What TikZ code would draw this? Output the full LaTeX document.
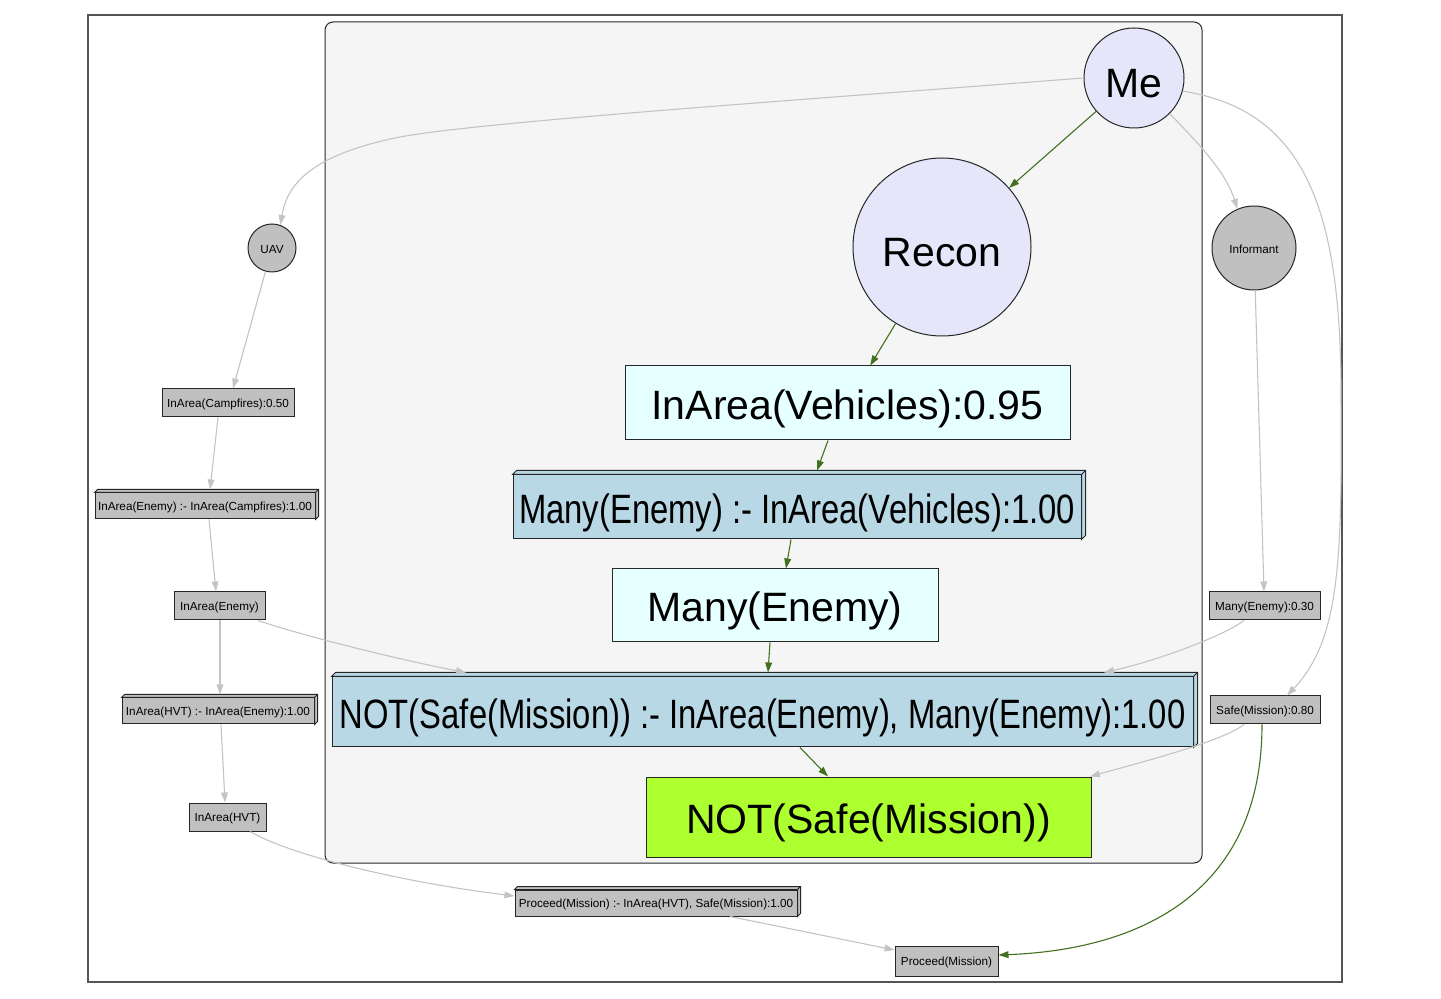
\documentclass[tikz,border=0pt]{standalone}
\usepackage{fontspec}
\setmainfont{Liberation Sans}
\newfontfamily\narrowfont[FakeStretch=0.8]{Liberation Sans}
\usetikzlibrary{arrows.meta,fit,calc}
\definecolor{lav}{HTML}{E6E6FA}
\definecolor{silverc}{HTML}{C0C0C0}
\definecolor{lcyan}{HTML}{E6FFFF}
\definecolor{lblue}{HTML}{B9D8E6}
\definecolor{gyellow}{HTML}{ADFF2F}
\definecolor{clusterc}{HTML}{F5F5F5}
\definecolor{edgegray}{HTML}{C4C4C4}
\definecolor{edgegreen}{HTML}{407020}
\definecolor{framec}{HTML}{555555}
\newcommand\bigf{\fontsize{20.5}{24}\selectfont}
\newcommand\rulef{\narrowfont\fontsize{20.5}{24}\selectfont}
\newcommand\smallf{\fontsize{5.85}{7}\selectfont}
\newcommand\mkextrude[3]{%
  \draw[draw=black!85, line width=0.5pt, fill=#3, line join=miter]
    (#1.north west) -- ++(#2,-#2) -- ($(#1.north east)+(#2,-#2)$) -- ($(#1.south east)+(#2,-#2)$)
    -- (#1.south east) -- (#1.north east) -- cycle (#1.north east) -- ++(#2,-#2);
  \path (#1.north) ++(0,-#2) coordinate (#1t);
}
\begin{document}
\begin{tikzpicture}[x=0.5pt,y=-0.5pt,
  circ/.style={circle, draw=black!85, line width=0.5pt, inner sep=0pt},
  bx/.style={rectangle, draw=black!85, line width=0.5pt, inner sep=0pt},
  lbig/.style={label={[font=\bigf, inner sep=0pt, yshift=-2.8pt]center:{#1}}},
  lrule/.style={label={[font=\rulef, inner sep=0pt, yshift=-2.8pt]center:{#1}}},
  lsmall/.style={label={[font=\smallf, inner sep=0pt, yshift=-0.8pt]center:{#1}}},
  gedge/.style={draw=edgegray, line width=0.55pt, -{Triangle[length=5pt,width=3.4pt]}},
  gnedge/.style={draw=edgegreen, line width=0.55pt, -{Triangle[length=5pt,width=3.4pt]}}]
\useasboundingbox (0,0) rectangle (1441,999);
\fill[white] (0,0) rectangle (1441,999);
\draw[framec, line width=0.6pt] (88,15) rectangle (1342,982);
\draw[fill=clusterc, draw=black!85, rounded corners=4pt, line width=0.5pt] (325,22) rectangle (1202,863);

% circles
\node[circ, fill=lav, minimum size=50pt, lbig={Me}] (me) at (1134,78) {};
\node[circ, fill=lav, minimum size=89pt, lbig={Recon}] (recon) at (942,247) {};
\node[circ, fill=silverc, minimum size=24pt, lsmall={UAV}] (uav) at (272,248) {};
\node[circ, fill=silverc, minimum size=42pt, lsmall={Informant}] (inf) at (1254,248) {};

% boxes in cluster
\node[bx, fill=lcyan, fit={(625,366) (1070,440)}, lbig={InArea(Vehicles):0.95}] (iv) {};
\node[bx, fill=lblue, fit={(513,475) (1081,539)}, lrule={Many(Enemy) :- InArea(Vehicles):1.00}] (mr) {};
\mkextrude{mr}{4}{lblue}
\node[bx, fill=lcyan, fit={(612,569) (938,642)}, lbig={Many(Enemy)}] (mn) {};
\node[bx, fill=lblue, fit={(332,677) (1193,747)}, lrule={NOT(Safe(Mission)) :- InArea(Enemy), Many(Enemy):1.00}] (nr) {};
\mkextrude{nr}{4}{lblue}
\node[bx, fill=gyellow, fit={(646,777) (1091,857)}, lbig={NOT(Safe(Mission))}] (ns) {};

% left column
\node[bx, fill=silverc, fit={(162,389) (294,417)}, lsmall={InArea(Campfires):0.50}] (ca) {};
\node[bx, fill=silverc, fit={(95,493) (315,519)}, lsmall={InArea(Enemy) :- InArea(Campfires):1.00}] (er) {};
\mkextrude{er}{3}{silverc}
\node[bx, fill=silverc, fit={(174,592) (265,620)}, lsmall={InArea(Enemy)}] (ie) {};
\node[bx, fill=silverc, fit={(122,698) (314,724)}, lsmall={InArea(HVT) :- InArea(Enemy):1.00}] (hr) {};
\mkextrude{hr}{3}{silverc}
\node[bx, fill=silverc, fit={(189,803) (266,831)}, lsmall={InArea(HVT)}] (ih) {};

% bottom
\node[bx, fill=silverc, fit={(515,890) (797,916)}, lsmall={Proceed(Mission) :- InArea(HVT), Safe(Mission):1.00}] (pr) {};
\mkextrude{pr}{3}{silverc}
\node[bx, fill=silverc, fit={(895,946) (998,976)}, lsmall={Proceed(Mission)}] (pm) {};

% right column
\node[bx, fill=silverc, fit={(1209,592) (1320,620)}, lsmall={Many(Enemy):0.30}] (m3) {};
\node[bx, fill=silverc, fit={(1210,696) (1320,724)}, lsmall={Safe(Mission):0.80}] (sm) {};

% edges
\draw[gedge] (me.west) .. controls (800,100) and (480,122) .. (400,137) .. controls (310,155) and (287,185) .. (uav.70);
\draw[gnedge] (me) -- (recon);
\draw[gedge] (me.-45) .. controls (1195,140) and (1225,170) .. (inf.113);
\draw[gedge] (me.-15) .. controls (1300,110) and (1342,200) .. (1341,400) .. controls (1342,560) and (1340,640) .. (sm.north -| 1287,0);
\draw[gnedge] (recon) -- (iv);
\draw[gnedge] (iv.south -| 828,0) -- (mrt -| 817,0);
\draw[gnedge] (mr.south -| 791,0) -- (mn.north -| 786,0);
\draw[gnedge] (mn.south -| 770,0) -- (nrt -| 768,0);
\draw[gnedge] (nr.south -| 800,0) -- (ns.north -| 828,0);
\draw[gedge] (uav) -- (ca.north -| 233,0);
\draw[gedge] (ca.south -| 218,0) -- (ert -| 210,0);
\draw[gedge] (er.south -| 209,0) -- (ie.north -| 216,0);
\draw[gedge] (ie.south -| 258,0) .. controls (300,635) and (400,660) .. (nrt -| 466,0);
\draw[gedge] (ie.south -| 220,0) -- (hrt -| 220,0);
\draw[gedge] (hr.south -| 221,0) -- (ih.north -| 225,0);
\draw[gedge] (ih.south -| 250,0) .. controls (290,855) and (400,882) .. (pr.west |- 0,896);
\draw[gedge] (inf) -- (m3.north -| 1264,0);
\draw[gedge] (m3.south -| 1244,0) .. controls (1225,635) and (1160,660) .. (nrt -| 1104,0);
\draw[gedge] (sm.south -| 1244,0) .. controls (1225,740) and (1150,760) .. (ns.north -| 1090,0);
\draw[gnedge] (sm.south -| 1262,0) .. controls (1262,900) and (1130,950) .. (pm.east |- 0,955);
\draw[gedge] (pr.south -| 730,0) -- (pm.west |- 0,950);
\end{tikzpicture}
\end{document}
